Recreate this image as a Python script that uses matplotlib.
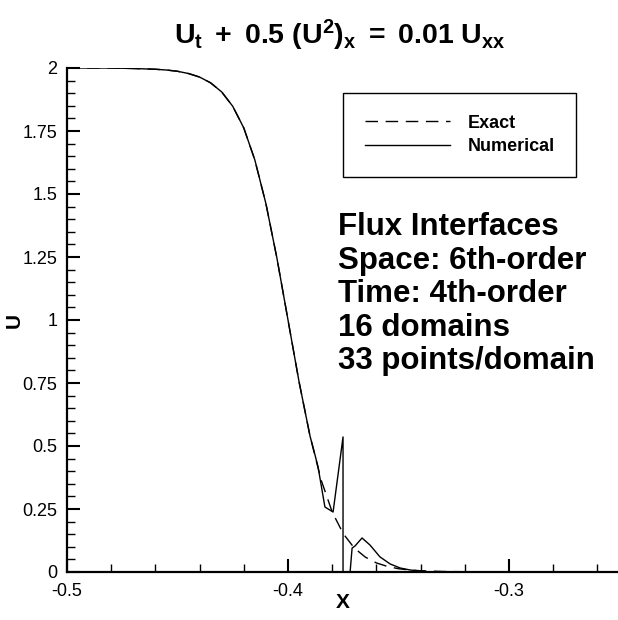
import numpy as np
import matplotlib
matplotlib.use('Agg')
import matplotlib.pyplot as plt
from matplotlib.ticker import MultipleLocator

plt.rcParams['font.family'] = ['Liberation Sans', 'DejaVu Sans']
plt.rcParams['mathtext.fontset'] = 'custom'
plt.rcParams['mathtext.rm'] = 'Liberation Sans'
plt.rcParams['mathtext.bf'] = 'Liberation Sans:bold'
plt.rcParams['mathtext.it'] = 'Liberation Sans:italic'

# exact solution
x_exact = [-0.5, -0.48, -0.47, -0.46, -0.455, -0.45, -0.445, -0.44, -0.435, -0.43,
           -0.425, -0.42, -0.415, -0.41, -0.405, -0.4, -0.395, -0.39, -0.385, -0.38,
           -0.375, -0.37, -0.365, -0.36, -0.355, -0.35, -0.345, -0.34, -0.33, -0.32,
           -0.3, -0.25]
u_exact = [2.0, 2.0, 1.998, 1.995, 1.992, 1.987, 1.978, 1.964, 1.941, 1.905,
           1.848, 1.762, 1.635, 1.462, 1.245, 1.0, 0.755, 0.538, 0.365, 0.238,
           0.152, 0.095, 0.059, 0.036, 0.022, 0.013, 0.008, 0.005, 0.002, 0.001,
           0.0, 0.0]

# numerical solution: follows the exact one up to x=-0.39, then the wiggle at the interface
x_num_tail = [-0.3887, -0.3864, -0.3833, -0.3796, -0.3751, -0.3751, -0.3719, -0.3710,
              -0.3697, -0.3665, -0.3629, -0.3584, -0.3538, -0.3493, -0.3448, -0.3403,
              -0.3357, -0.3, -0.25]
u_num_tail = [0.496, 0.417, 0.258, 0.238, 0.536, 0.0, 0.0, 0.095,
              0.103, 0.135, 0.107, 0.060, 0.032, 0.016, 0.008, 0.004,
              0.0, 0.0, 0.0]
x_num = x_exact[:18] + x_num_tail
u_num = u_exact[:18] + u_num_tail

xticks = [-0.5, -0.4, -0.3]
xtick_labels = ['-0.5', '-0.4', '-0.3']
yticks = [0, 0.25, 0.5, 0.75, 1, 1.25, 1.5, 1.75, 2]
ytick_labels = ['0', '0.25', '0.5', '0.75', '1', '1.25', '1.5', '1.75', '2']

info_lines = ['Flux Interfaces', 'Space: 6th-order', 'Time: 4th-order',
              '16 domains', '33 points/domain']

W, H = 618, 620
fig = plt.figure(figsize=(W / 100, H / 100), dpi=100)
ax = fig.add_axes([67 / W, (H - 572) / H, 552.5 / W, 504 / H])

ax.plot(x_exact, u_exact, color='black', lw=1.0, dashes=(9, 5.5), label='Exact')
ax.plot(x_num, u_num, color='black', lw=1.0, label='Numerical')

ax.set_xlim(-0.5, -0.25)
ax.set_ylim(0, 2)
ax.spines['top'].set_visible(False)
ax.spines['right'].set_visible(False)
ax.spines['left'].set_linewidth(1.6)
ax.spines['bottom'].set_linewidth(1.6)

ax.set_xticks(xticks, labels=xtick_labels)
ax.set_yticks(yticks, labels=ytick_labels)
ax.xaxis.set_minor_locator(MultipleLocator(0.02))
ax.yaxis.set_minor_locator(MultipleLocator(0.05))
ax.tick_params(which='major', direction='in', length=9.5, width=1.5, labelsize=13, pad=7)
ax.tick_params(which='minor', direction='in', length=6, width=1.0)
ax.tick_params(axis='x', pad=8)

fig.text(343 / W, 1 - 603 / H, 'X', fontsize=15, fontweight='bold', ha='center', va='center')
fig.text(14 / W, 1 - 320 / H, 'U', fontsize=15, fontweight='bold', ha='center', va='center',
         rotation=90)

fig.text(340 / W, 1 - 44 / H,
         r'$\mathbf{U_t\ +\ 0.5\ (U^2)_x\ =\ 0.01\ U_{xx}}$',
         fontsize=20.5, ha='center', va='baseline')

leg = ax.legend(loc='upper left', bbox_to_anchor=(343 / W, 1 - 93 / H),
                bbox_transform=fig.transFigure, fancybox=False, framealpha=1,
                edgecolor='black', prop={'size': 13, 'weight': 'bold'},
                handlelength=4.7, handletextpad=1.0, borderpad=1.2,
                labelspacing=0.35, borderaxespad=0)
leg.get_frame().set_linewidth(1.0)

for i, line in enumerate(info_lines):
    fig.text(338 / W, 1 - (235 + 33.5 * i) / H, line, fontsize=22.5, fontweight='bold',
             ha='left', va='baseline')

fig.savefig('out.png', dpi=100)
